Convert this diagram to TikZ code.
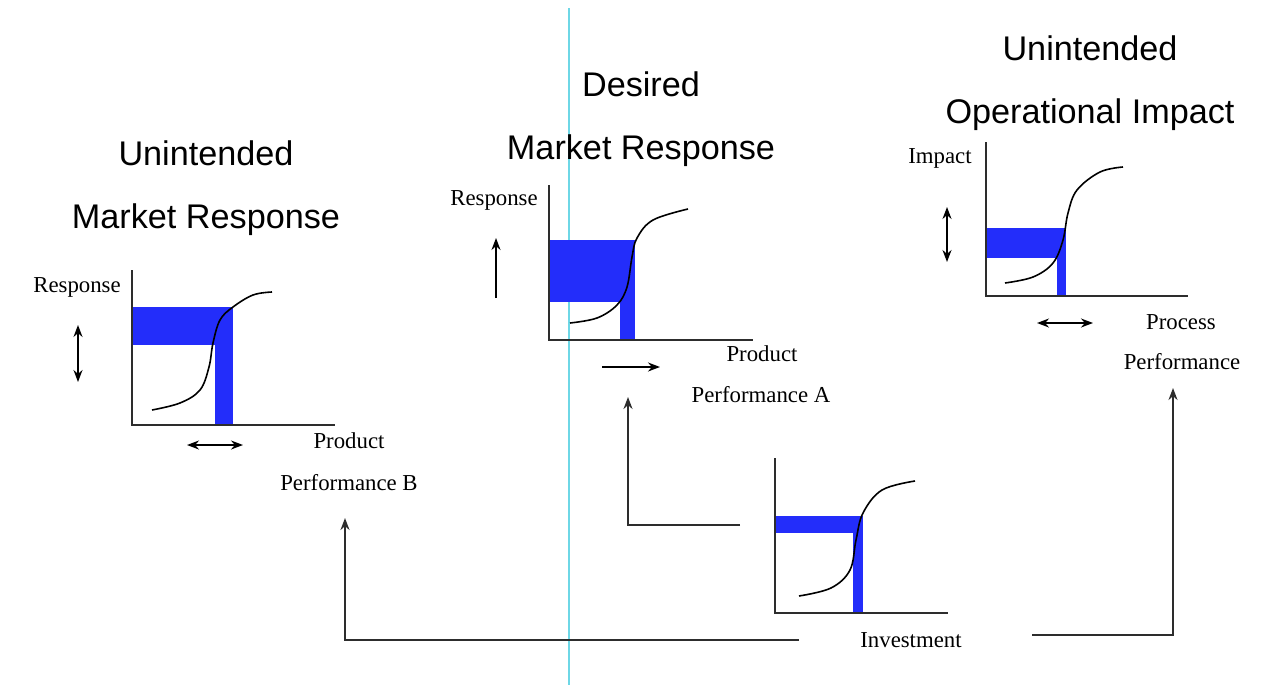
\documentclass[tikz,border=0pt]{standalone}
\usepackage{fontspec}
\setmainfont{Liberation Serif}
\setsansfont{Liberation Sans}
\usetikzlibrary{arrows.meta, positioning}
\definecolor{bandblue}{RGB}{35,45,250}
\definecolor{guidecyan}{RGB}{110,215,230}
\definecolor{inkgray}{RGB}{45,45,45}

\begin{document}
\begin{tikzpicture}[x=0.5pt, y=-0.5pt,
  axis/.style={line width=1pt, draw=inkgray},
  band/.style={fill=bandblue, draw=none},
  scurve/.style={line width=0.8pt},
  moveup/.style={line width=0.8pt, -{Stealth[length=6pt, width=4.5pt]}},
  swing/.style={line width=0.8pt, {Stealth[length=6pt, width=4.5pt]}-{Stealth[length=6pt, width=4.5pt]}},
  flow/.style={line width=1pt, draw=inkgray, -{Stealth[length=6pt, width=4.5pt]}},
  label/.style={font=\fontsize{11.4}{13}\selectfont, inner sep=0pt},
  heading/.style={font=\sffamily\fontsize{17.1}{31.5}\selectfont, align=center, inner sep=0pt}]
  \useasboundingbox (0,0) rectangle (1273,685);

  % Guide line
  \draw[guidecyan, line width=1pt] (569,8) -- (569,685);

  % Headings
  \node[heading] (ttlB) at (206,188) {Unintended\\Market Response};
  \node[heading] (ttlA) at (641,119) {Desired\\Market Response};
  \node[heading] (ttlOp) at (1090,83) {Unintended\\Operational Impact};

  % Chart: product performance B
  \fill[band] (132,307) rectangle (233,345);
  \fill[band] (215,345) rectangle (233,425);
  \draw[axis] (132,270) -- (132,425) -- (335,425);
  \draw[scurve] plot[smooth, tension=0.6] coordinates {(152,410) (180,403) (200,390) (209,367) (213,343) (220,320) (233,307) (253,295) (272,292)};
  \draw[swing] (78,325) -- (78,382);
  \draw[swing] (187,445) -- (243,445);
  \node[label] (respB) at (77,287) {Response};
  \node[label] (prodB) at (349,441) {Product};
  \node[label] (perfB) at (349,483) {Performance B};

  % Chart: product performance A
  \fill[band] (549,240) rectangle (635,302);
  \fill[band] (620,302) rectangle (635,340);
  \draw[axis] (549,185) -- (549,340) -- (753,340);
  \draw[scurve] plot[smooth, tension=0.6] coordinates {(570,323) (597,318) (617,305) (627,287) (632,257) (637,238) (653,220) (688,209)};
  \draw[moveup] (496,298) -- (496,238);
  \draw[moveup] (602,367) -- (660,367);
  \node[label] (respA) at (494,200) {Response};
  \node[label] (prodA) at (762,354) {Product};
  \node[label] (perfA) at (761,395) {Performance A};

  % Chart: process performance
  \fill[band] (986,228) rectangle (1066,258);
  \fill[band] (1057,258) rectangle (1066,296);
  \draw[axis] (986,142) -- (986,296) -- (1188,296);
  \draw[scurve] plot[smooth, tension=0.6] coordinates {(1005,283) (1033,277) (1053,263) (1063,240) (1068,213) (1077,190) (1100,172) (1123,167)};
  \draw[swing] (947,207) -- (947,262);
  \draw[swing] (1037,323) -- (1093,323);
  \node[label] (impact) at (940,158) {Impact};
  \node[label] (proc) at (1181,322) {Process};
  \node[label] (perfP) at (1182,362) {Performance};

  % Chart: investment
  \fill[band] (775,516) rectangle (863,533);
  \fill[band] (853,533) rectangle (863,613);
  \draw[axis] (775,458) -- (775,613) -- (948,613);
  \draw[scurve] plot[smooth, tension=0.6] coordinates {(799,596) (831,588) (850,570) (856,540) (863,513) (882,490) (915,481)};
  \node[label] (invest) at (911,640) {Investment};

  % Connectors from investment
  \coordinate (invW) at (799,640);
  \coordinate (invE) at (1032,635);
  \coordinate (invN) at (740,525);
  \coordinate (tipB) at (345,518);
  \coordinate (tipA) at (628,397);
  \coordinate (tipP) at (1173,388);
  \draw[flow] (invW) -| (tipB);
  \draw[flow] (invN) -| (tipA);
  \draw[flow] (invE) -| (tipP);
\end{tikzpicture}
\end{document}
